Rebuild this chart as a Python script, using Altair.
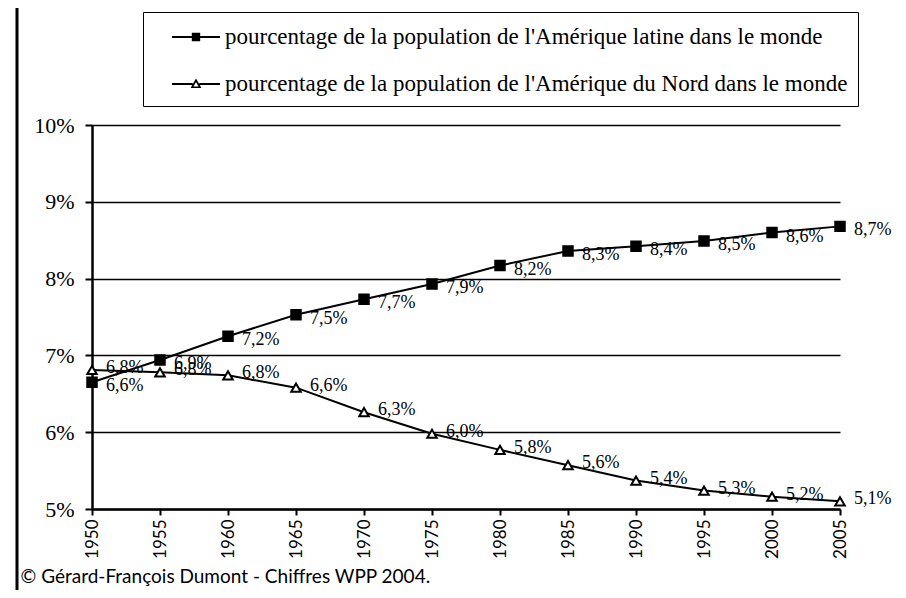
import altair as alt
import pandas as pd

years = [1950, 1955, 1960, 1965, 1970, 1975, 1980, 1985, 1990, 1995, 2000, 2005]
amerique_latine = [6.65, 6.94, 7.25, 7.53, 7.73, 7.93, 8.17, 8.36, 8.42, 8.49, 8.60, 8.68]
labels_latine = ["6,6%", "6,9%", "7,2%", "7,5%", "7,7%", "7,9%", "8,2%", "8,3%", "8,4%", "8,5%", "8,6%", "8,7%"]
amerique_nord = [6.81, 6.78, 6.74, 6.58, 6.26, 5.98, 5.77, 5.57, 5.37, 5.24, 5.16, 5.10]
labels_nord = ["6,8%", "6,8%", "6,8%", "6,6%", "6,3%", "6,0%", "5,8%", "5,6%", "5,4%", "5,3%", "5,2%", "5,1%"]
serie_latine = "pourcentage de la population de l'Amérique latine dans le monde"
serie_nord = "pourcentage de la population de l'Amérique du Nord dans le monde"
y_ticks = [5, 6, 7, 8, 9, 10]
copyright_text = "© Gérard-François Dumont - Chiffres WPP 2004."

rows = []
for i, yr in enumerate(years):
    rows.append({"annee": yr, "valeur": amerique_latine[i], "etiquette": labels_latine[i],
                 "serie": serie_latine, "pos": "bas"})
    rows.append({"annee": yr, "valeur": amerique_nord[i], "etiquette": labels_nord[i],
                 "serie": serie_nord, "pos": "haut"})
df = pd.DataFrame(rows)
order = [serie_latine, serie_nord]

# legend symbols: a line with a marker, drawn entirely with fill (hole via winding)
path_latine = ("M-1.6,-0.067H1.6V0.067H-1.6Z"
               "M-0.28,-0.28H0.28V0.28H-0.28Z")
path_nord = ("M-1.6,-0.067H-0.22V0.067H-1.6Z"
             "M0.22,-0.067H1.6V0.067H0.22Z"
             "M-0.36,0.27L0,-0.36L0.36,0.27Z"
             "M-0.17,0.16L0.17,0.16L0,-0.14Z")

x_enc = alt.X("annee:Q",
              scale=alt.Scale(domain=[1950, 2005], nice=False, zero=False),
              axis=alt.Axis(values=years, format="d", labelAngle=270, labelAlign="right",
                            labelBaseline="middle", labelFont="Lato", labelFontSize=17,
                            labelColor="black", labelPadding=4, labelFlush=False,
                            labelOverlap=False, tickSize=6, tickWidth=2, tickColor="black",
                            domainColor="black", domainWidth=2.5, grid=False, title=None))
y_enc = alt.Y("valeur:Q",
              scale=alt.Scale(domain=[5, 10], nice=False, zero=False),
              axis=alt.Axis(values=y_ticks, labelExpr="datum.value + '%'",
                            labelFont="Liberation Serif", labelFontSize=22, labelColor="black",
                            labelPadding=11, labelOverlap=False, tickSize=7, tickWidth=2,
                            tickColor="black", domainColor="black", domainWidth=2.5,
                            grid=True, gridColor="black", gridWidth=1.5, title=None))

base = alt.Chart(df)

border = alt.Chart(pd.DataFrame({"bord": [0]})).mark_rule(color="black", strokeWidth=3).encode(
    x=alt.value(-75), y=alt.value(-117), y2=alt.value(465))

lines = base.mark_line(color="black", strokeWidth=2).encode(x=x_enc, y=y_enc, detail="serie:N")

points = base.mark_point(filled=True, stroke="black", strokeWidth=2, opacity=1, size=90).encode(
    x=x_enc, y=y_enc,
    shape=alt.Shape("serie:N", scale=alt.Scale(domain=order, range=["square", "triangle-up"]), legend=None),
    fill=alt.Fill("serie:N", scale=alt.Scale(domain=order, range=["black", "white"]), legend=None),
)

leg = dict(orient="none", legendX=51, legendY=-113, title=None, strokeColor="black",
           padding=10, labelFont="Liberation Serif", labelFontSize=23, labelColor="black",
           symbolSize=900, symbolStrokeWidth=0, symbolFillColor="black", symbolOpacity=1,
           rowPadding=20, symbolOffset=28, labelOffset=14, labelLimit=900)

legend_layer = base.mark_point(filled=True, color="black", size=0).encode(
    x=x_enc, y=y_enc,
    shape=alt.Shape("serie:N", scale=alt.Scale(domain=order, range=[path_latine, path_nord]),
                    legend=alt.Legend(**leg)),
)

text_lat = base.transform_filter(alt.datum.pos == "bas").mark_text(
    align="left", baseline="middle", dx=14, dy=4, font="Liberation Serif", fontSize=18,
    color="black").encode(x=x_enc, y=y_enc, text="etiquette:N")
text_nord = base.transform_filter(alt.datum.pos == "haut").mark_text(
    align="left", baseline="middle", dx=14, dy=-2, font="Liberation Serif", fontSize=18,
    color="black").encode(x=x_enc, y=y_enc, text="etiquette:N")

chart = alt.layer(border, lines, points, legend_layer, text_lat, text_nord).resolve_scale(
    shape="independent", fill="independent"
).properties(
    width=748, height=384, autosize="none",
    padding={"left": 84, "top": 117, "right": 58, "bottom": 81},
    title=alt.Title(copyright_text, orient="bottom", anchor="start", dx=5, dy=-38, offset=14,
                    font="Lato", fontSize=19, fontWeight="normal", color="black"),
).configure_view(stroke=None)

chart.save("out.html", embed_options={"renderer": "svg", "actions": False})
